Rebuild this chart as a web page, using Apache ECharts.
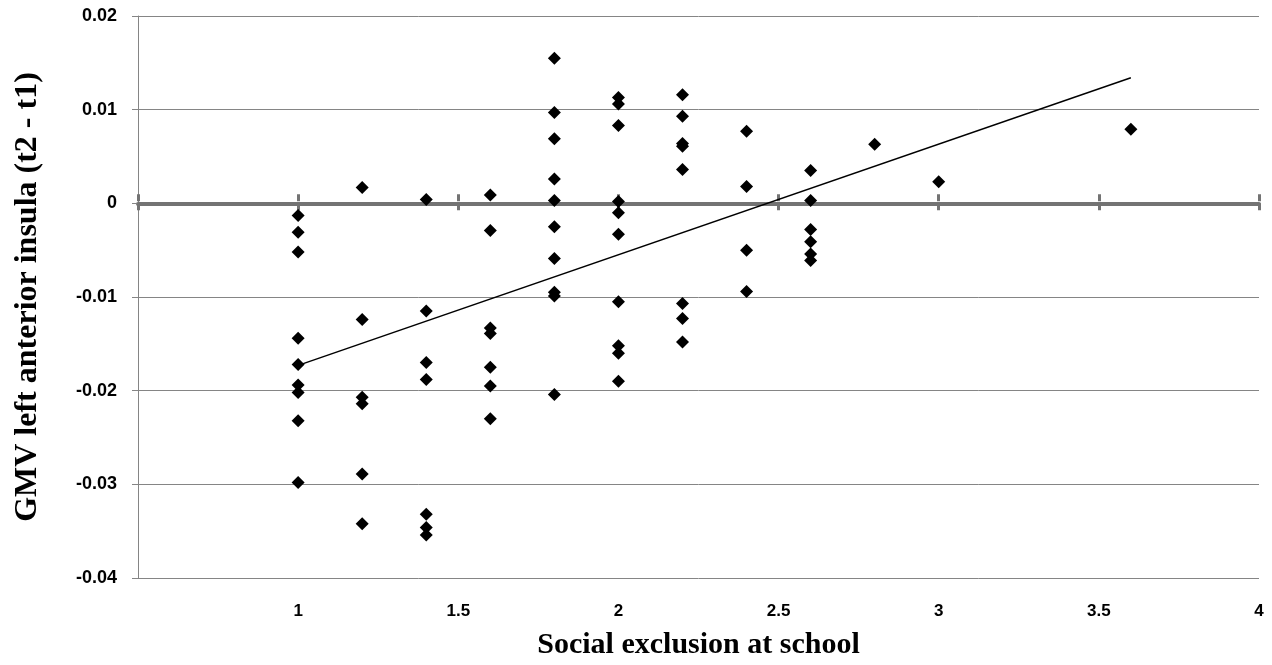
<!DOCTYPE html>
<html>
<head>
<meta charset="utf-8">
<script src="https://cdn.jsdelivr.net/npm/echarts@6/dist/echarts.min.js"></script>
<style>
html,body{margin:0;padding:0;background:#fff;}
#chart{width:1272px;height:665px;}
</style>
</head>
<body>
<div id="chart"></div>
<script>
// Data
var xValues = [
  1,1,1,1,1,1,1,1,1,
  1.2,1.2,1.2,1.2,1.2,1.2,
  1.4,1.4,1.4,1.4,1.4,1.4,1.4,
  1.6,1.6,1.6,1.6,1.6,1.6,1.6,
  1.8,1.8,1.8,1.8,1.8,1.8,1.8,1.8,1.8,1.8,
  2,2,2,2,2,2,2,2,2,2,
  2.2,2.2,2.2,2.2,2.2,2.2,2.2,2.2,
  2.4,2.4,2.4,2.4,
  2.6,2.6,2.6,2.6,2.6,2.6,
  2.8,3,3.6
];
var yValues = [
  -0.0013,-0.0031,-0.0052,-0.0144,-0.0172,-0.0194,-0.0202,-0.0232,-0.0298,
  0.0017,-0.0124,-0.0207,-0.0214,-0.0289,-0.0342,
  0.0004,-0.0115,-0.0170,-0.0188,-0.0332,-0.0346,-0.0354,
  0.0009,-0.0029,-0.0133,-0.0139,-0.0175,-0.0195,-0.0230,
  0.0155,0.0097,0.0069,0.0026,0.0003,-0.0025,-0.0059,-0.0095,-0.0099,-0.0204,
  0.0113,0.0106,0.0083,0.0002,-0.0010,-0.0033,-0.0105,-0.0152,-0.0160,-0.0190,
  0.0116,0.0093,0.0064,0.0061,0.0036,-0.0107,-0.0123,-0.0148,
  0.0077,0.0018,-0.0050,-0.0094,
  0.0035,0.0003,-0.0028,-0.0041,-0.0054,-0.0061,
  0.0063,0.0023,0.0079
];
var trendX = [1, 3.6];
var trendY = [-0.0173, 0.0134];
var xTicks = [0.5, 1, 1.5, 2, 2.5, 3, 3.5, 4];
var yTicks = [-0.04, -0.03, -0.02, -0.01, 0, 0.01, 0.02];
var xTitle = 'Social exclusion at school';
var yTitle = 'GMV left anterior insula (t2 - t1)';

var points = xValues.map(function(x, i){ return [x, yValues[i]]; });
var trend = trendX.map(function(x, i){ return [x, trendY[i]]; });

var gray = '#858585';
var zeroGray = '#737373';
var gridTop = 16, gridBottom = 84, chartH = 665;
var yMin = yTicks[0], yMax = yTicks[yTicks.length-1];
// distance from the grid bottom up to the value-0 line, for the upward tick marks
var zeroOffset = -(chartH - gridTop - gridBottom) * (0 - yMin) / (yMax - yMin);

var chart = echarts.init(document.getElementById('chart'));
var xBase = {
  type: 'value', min: xTicks[0], max: xTicks[xTicks.length-1], interval: 0.5,
  splitLine: {show: false}
};
chart.setOption({
  animation: false,
  backgroundColor: '#ffffff',
  grid: {left: 138, right: 13, top: gridTop, bottom: gridBottom, containLabel: false},
  xAxis: [
    Object.assign({}, xBase, {
      position: 'bottom',
      name: xTitle, nameLocation: 'middle', nameGap: 52,
      nameTextStyle: {fontFamily: 'Liberation Serif', fontWeight: 'bold', fontSize: 30, color: '#000'},
      axisLine: {show: false, onZero: false},
      axisTick: {show: false},
      axisLabel: {
        margin: 25, fontFamily: 'Liberation Sans', fontWeight: 'bold', fontSize: 17, color: '#000',
        formatter: function(v){ return v === 0.5 ? '' : String(v); }
      }
    }),
    Object.assign({}, xBase, {
      position: 'bottom',
      axisLine: {show: true, onZero: true, lineStyle: {color: zeroGray, width: 4}},
      axisTick: {show: true, inside: false, length: 7, lineStyle: {color: zeroGray, width: 3}},
      axisLabel: {show: false}
    }),
    Object.assign({}, xBase, {
      position: 'bottom', offset: zeroOffset,
      axisLine: {show: false, onZero: false},
      axisTick: {show: true, inside: true, length: 7, lineStyle: {color: zeroGray, width: 3}},
      axisLabel: {show: false}
    })
  ],
  yAxis: {
    type: 'value', min: yMin, max: yMax, interval: 0.01,
    name: yTitle, nameLocation: 'middle', nameGap: 94,
    nameTextStyle: {fontFamily: 'Liberation Serif', fontWeight: 'bold', fontSize: 32, color: '#000'},
    axisLine: {show: true, onZero: false, lineStyle: {color: gray, width: 1}},
    axisTick: {show: true, length: 6, lineStyle: {color: gray, width: 1}},
    splitLine: {show: true, lineStyle: {color: gray, width: 1}},
    axisLabel: {
      margin: 21, fontFamily: 'Liberation Sans', fontWeight: 'bold', fontSize: 18, color: '#000',
      formatter: function(v){ var s = Number(v.toFixed(2)); return String(s === 0 ? 0 : s); }
    }
  },
  series: [
    {
      type: 'line', data: trend, xAxisIndex: 0, showSymbol: false, symbol: 'none',
      lineStyle: {color: '#000', width: 1.5}, z: 3, silent: true
    },
    {
      type: 'scatter', data: points, xAxisIndex: 0, symbol: 'diamond', symbolSize: 13,
      itemStyle: {color: '#000', opacity: 1}, z: 4
    }
  ]
});
</script>
</body>
</html>
